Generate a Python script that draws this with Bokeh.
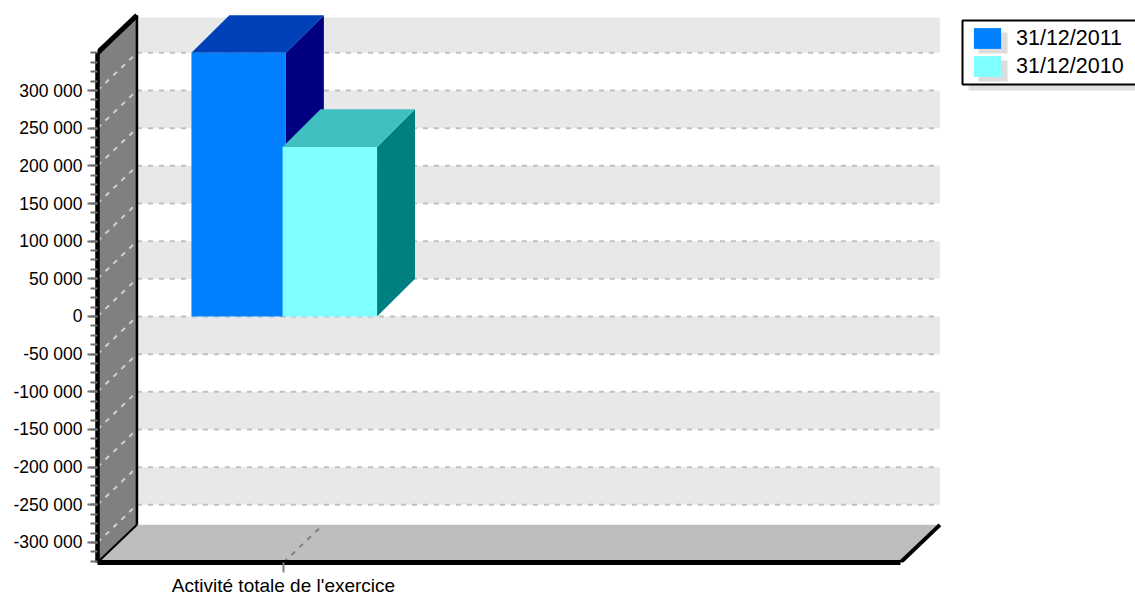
from bokeh.embed import file_html
from bokeh.models import BoxAnnotation, FixedTicker, Legend, LegendItem, LinearAxis, Range1d
from bokeh.plotting import figure
from bokeh.resources import INLINE

# Series and axis content
category = "Activité totale de l'exercice"
series_names = ["31/12/2011", "31/12/2010"]
series_values = [350000, 225000]
front_colors = ["#0080ff", "#80ffff"]
top_colors = ["#0040b8", "#40c0c0"]
side_colors = ["#000080", "#008080"]
bar_left = [-0.495, -0.005]
bar_width = 0.508

y_ticks = list(range(-300000, 300001, 50000))
y_minor = list(range(-325000, 350001, 12500))

# Axis extents and the depth of the 3D box, in data units
y_floor, y_ceiling = -326600, 419500
y_front_top = 350000
depth_y = 50000
depth_x = 0.212
bar_depth_x = 0.204
y_back_top = y_front_top + depth_y
y_band_top = 397000
x_end = 4.317
cat_x = 1

FRAME_LEFT = 97
FRAME_BOTTOM = 562
FONT = "Liberation Sans"


def tick_text(v):
    return f"{v:,}".replace(",", " ")


p = figure(
    width=1135, height=595, frame_width=1038, frame_height=FRAME_BOTTOM,
    output_backend="svg", toolbar_location=None,
    x_range=Range1d(0, 1038 / 186), y_range=Range1d(y_floor, y_ceiling),
    min_border_left=FRAME_LEFT, min_border_right=0, min_border_top=0, min_border_bottom=0,
    x_axis_location=None, y_axis_location=None,
)
p.outline_line_color = None
p.grid.visible = False
p.background_fill_color = "white"

# Back wall: alternating bands, then dashed grid lines (one depth step above the front scale)
band_edges = [y_band_top] + [v + depth_y for v in reversed(y_ticks)]
for i in range(0, len(band_edges) - 1, 2):
    p.quad(left=depth_x, right=x_end + depth_x, top=band_edges[i], bottom=band_edges[i + 1],
           fill_color="#e8e8e8", line_color=None)
for v in y_ticks:
    p.line([depth_x, x_end + depth_x], [v + depth_y, v + depth_y],
           line_color="#c0c0c0", line_width=2, line_dash="5 6")

# Left wall and floor
p.patch([0, depth_x, depth_x, 0], [y_front_top, y_back_top, y_floor + depth_y, y_floor],
        fill_color="#808080", line_color=None)
p.patch([0, depth_x, x_end + depth_x, x_end], [y_floor, y_floor + depth_y, y_floor + depth_y, y_floor],
        fill_color="#bebebe", line_color=None)

# Dashed depth lines across the wall and the floor
for v in y_ticks:
    p.line([0, depth_x], [v, v + depth_y], line_color="#d0d0d0", line_width=2, line_dash="5 6")
p.line([cat_x, cat_x + depth_x], [y_floor, y_floor + depth_y], line_color="#808080",
       line_width=2, line_dash="5 6")

# Box edges
p.line([depth_x, depth_x], [y_back_top, y_floor + depth_y], line_color="black", line_width=2.5)
p.line([0, depth_x], [y_front_top, y_back_top], line_color="black", line_width=5)
p.line([0, depth_x], [y_floor, y_floor + depth_y], line_color="black", line_width=2)
p.line([x_end, x_end + depth_x], [y_floor, y_floor + depth_y], line_color="black", line_width=4)

# Extruded bars
legend_items = []
for name, val, left, fc, tc, sc in zip(series_names, series_values, bar_left,
                                       front_colors, top_colors, side_colors):
    right = cat_x + left + bar_width
    x0 = cat_x + left
    p.patch([right, right + bar_depth_x, right + bar_depth_x, right], [0, depth_y, val + depth_y, val],
            fill_color=sc, line_color=None)
    p.patch([x0, x0 + bar_depth_x, right + bar_depth_x, right], [val, val + depth_y, val + depth_y, val],
            fill_color=tc, line_color=None)
    face = p.quad(left=x0, right=right, bottom=0, top=val, fill_color=fc, line_color=None)
    legend_items.append(LegendItem(label=name, renderers=[face]))

# Axes
left_axis = LinearAxis(
    ticker=FixedTicker(ticks=y_ticks, minor_ticks=y_minor),
    major_label_overrides={v: tick_text(v) for v in y_ticks},
    bounds=(y_floor, y_front_top),
    axis_line_color="black", axis_line_width=4.5,
    major_tick_line_color="#707070", major_tick_line_width=2, major_tick_in=0, major_tick_out=10,
    minor_tick_line_color="#707070", minor_tick_line_width=2, minor_tick_in=0, minor_tick_out=7,
    major_label_standoff=5, major_label_text_font=FONT, major_label_text_font_size="17.5px",
    major_label_text_color="black",
)
p.add_layout(left_axis, "left")

bottom_axis = LinearAxis(
    ticker=FixedTicker(ticks=[cat_x]),
    major_label_overrides={cat_x: category},
    bounds=(0, x_end),
    axis_line_color="black", axis_line_width=5,
    major_tick_line_color="#808080", major_tick_line_width=2, major_tick_in=0, major_tick_out=10,
    minor_tick_line_color=None,
    major_label_standoff=2, major_label_text_font=FONT, major_label_text_font_size="19px",
    major_label_text_color="black",
)
p.add_layout(bottom_axis, "below")


# Legend frame and its drop shadows; page pixels converted to frame-relative screen units
def screen_box(left, right, top, bottom, **kw):
    p.add_layout(BoxAnnotation(left=left - FRAME_LEFT, right=right - FRAME_LEFT,
                               top=FRAME_BOTTOM - top, bottom=FRAME_BOTTOM - bottom,
                               left_units="screen", right_units="screen",
                               top_units="screen", bottom_units="screen",
                               fill_alpha=1, line_alpha=1, editable=False, **kw))


screen_box(968, 1150, 26, 90, fill_color="#e0e0e0", line_color=None)
screen_box(962, 1150, 20, 84, fill_color="white", line_color="black", line_width=2)
screen_box(978, 1007, 32, 53, fill_color="#dcdcdc", line_color=None)
screen_box(978, 1007, 60, 81, fill_color="#dcdcdc", line_color=None)

legend = Legend(
    items=legend_items, location=(873, 483), margin=0, padding=0, spacing=2,
    glyph_width=34, glyph_height=26, label_standoff=12, label_height=26,
    label_text_font=FONT, label_text_font_size="21.5px", label_text_color="black",
    background_fill_alpha=0, border_line_color=None,
)
p.add_layout(legend, "center")

open("out.html", "w").write(file_html(p, INLINE))
